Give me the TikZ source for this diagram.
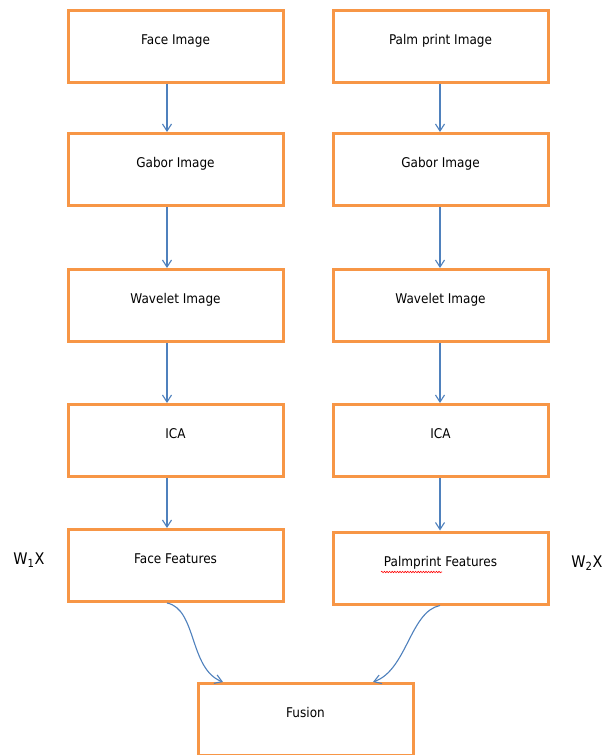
\documentclass[tikz,border=0pt]{standalone}
\usepackage{fontspec}
\setmainfont{DejaVu Sans}[FakeStretch=0.9]
\usetikzlibrary{arrows.meta,decorations.pathmorphing}
\definecolor{boxorange}{HTML}{F79646}
\definecolor{arrowblue}{HTML}{4F81BD}
\begin{document}
\begin{tikzpicture}[x=1pt,y=-1pt,
  box/.style={draw=boxorange,line width=3pt,minimum width=215pt,minimum height=72pt,
    inner sep=0pt,text height=10pt,text depth=14pt,font=\fontsize{13.4}{15}\selectfont},
  flow/.style={draw=arrowblue,line width=1.1pt,-{Straight Barb[length=7pt,width=9pt]}},
  weight/.style={font=\fontsize{16}{18}\selectfont,inner sep=0pt},
  spell/.style={draw=red,line width=0.6pt,decorate,decoration={snake,amplitude=0.7pt,segment length=2.6pt}}]
\useasboundingbox (0,0) rectangle (609,755);
\clip (0,0) rectangle (609,755);
\fill[white] (0,0) rectangle (609,755);
% left column
\node[box] (f1) at (175.5,46) {Face Image};
\node[box] (f2) at (175.5,169.5) {Gabor Image};
\node[box] (f3) at (175.5,305.5) {Wavelet Image};
\node[box] (f4) at (175.5,440.5) {ICA};
\node[box] (f5) at (175.5,565.5) {Face Features};
% right column
\node[box] (p1) at (440.5,46) {Palm print Image};
\node[box] (p2) at (440.5,169.5) {Gabor Image};
\node[box] (p3) at (440.5,305.5) {Wavelet Image};
\node[box] (p4) at (440.5,440.5) {ICA};
\node[box] (p5) at (440.5,568) {Palmprint Features};
% fusion
\node[box] (fu) at (305.5,719.5) {Fusion};
% weights
\node[weight] (w1) at (29,560) {W\textsubscript{1}X};
\node[weight] (w2) at (587,563) {W\textsubscript{2}X};
% spell-check underline
\draw[spell] (381,572) -- (442,572);
% column guide coordinates
\coordinate (lx) at (167,0);
\coordinate (rx) at (440,0);
\coordinate (fa) at (223,0);
\coordinate (fb) at (373,0);
\foreach \a/\b in {f1/f2,f2/f3,f3/f4,f4/f5}
  \draw[flow] (\a.south -| lx) -- (\b.north -| lx);
\foreach \a/\b in {p1/p2,p2/p3,p3/p4,p4/p5}
  \draw[flow] (\a.south -| rx) -- (\b.north -| rx);
\draw[flow] (f5.south -| lx) .. controls +(30,6) and +(-34,-13) .. (fu.north -| fa);
\draw[flow] (p5.south -| rx) .. controls +(-30,6) and +(34,-12) .. (fu.north -| fb);
\end{tikzpicture}
\end{document}
